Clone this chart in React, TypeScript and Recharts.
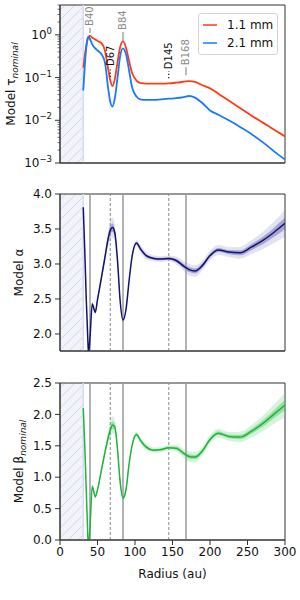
import {
  ComposedChart,
  Line,
  Area,
  XAxis,
  YAxis,
  ReferenceLine,
  ReferenceArea,
  ReferenceDot,
  Legend,
} from 'recharts';

// radius grid (au) shared by all profiles
const radius = [31, 33, 35, 37, 38, 40, 43, 47, 50, 55, 60, 64, 67, 70, 73, 77, 80, 84, 88, 92, 96, 102, 107, 115, 125, 135, 145, 155, 165, 172, 180, 190, 200, 211, 225, 240, 255, 271, 285, 300];

const tau11 = [0.17, 0.32, 0.55, 0.8, 0.9, 0.95, 0.86, 0.78, 0.72, 0.65, 0.42, 0.17, 0.085, 0.063, 0.09, 0.25, 0.5, 0.7, 0.5, 0.25, 0.13, 0.085, 0.075, 0.072, 0.072, 0.072, 0.073, 0.076, 0.08, 0.083, 0.079, 0.066, 0.056, 0.042, 0.029, 0.0194, 0.013, 0.0087, 0.0061, 0.0042];
const tau21 = [0.05, 0.18, 0.5, 0.85, 0.9, 0.8, 0.6, 0.48, 0.43, 0.36, 0.22, 0.06, 0.027, 0.021, 0.032, 0.11, 0.3, 0.48, 0.35, 0.15, 0.06, 0.036, 0.031, 0.03, 0.03, 0.031, 0.032, 0.033, 0.035, 0.037, 0.034, 0.025, 0.017, 0.0135, 0.01, 0.007, 0.0048, 0.003, 0.0019, 0.0012];
const alpha = [3.81, 3.2, 2.5, 1.95, 1.72, 1.95, 2.43, 2.31, 2.49, 2.79, 3.1, 3.35, 3.48, 3.52, 3.45, 3.0, 2.5, 2.2, 2.35, 2.75, 3.1, 3.3, 3.22, 3.12, 3.08, 3.07, 3.08, 3.05, 2.97, 2.92, 2.9, 2.98, 3.12, 3.2, 3.17, 3.16, 3.24, 3.34, 3.45, 3.58];
const beta = [2.1, 1.5, 0.8, 0.1, -0.15, 0.2, 0.85, 0.69, 0.8, 1.1, 1.4, 1.62, 1.75, 1.83, 1.8, 1.4, 0.95, 0.67, 0.8, 1.2, 1.5, 1.68, 1.59, 1.48, 1.43, 1.44, 1.47, 1.46, 1.38, 1.33, 1.32, 1.42, 1.6, 1.7, 1.65, 1.64, 1.73, 1.86, 2.0, 2.15];
// half-width of the posterior draws
const spread = [0.02, 0.02, 0.02, 0.03, 0.03, 0.03, 0.03, 0.03, 0.03, 0.04, 0.05, 0.07, 0.1, 0.1, 0.08, 0.05, 0.04, 0.03, 0.03, 0.03, 0.03, 0.03, 0.04, 0.04, 0.03, 0.03, 0.03, 0.04, 0.05, 0.06, 0.06, 0.05, 0.05, 0.05, 0.05, 0.06, 0.07, 0.09, 0.11, 0.14];

const radiusTicks = [0, 50, 100, 150, 200, 250, 300];
const alphaTicks = [2.0, 2.5, 3.0, 3.5, 4.0];
const betaTicks = [0, 0.5, 1.0, 1.5, 2.0, 2.5];
const tauTicks = [0.001, 0.01, 0.1, 1].flatMap(d => [1, 2, 3, 4, 5, 6, 7, 8, 9].map(m => m * d)).filter(v => v <= 5);

const rings = [40, 84, 168];
const gaps = [67, 145];
const annotations = [
  { name: 'B40', r: 40, y: 1.11, len: 5, gap: 2, ring: true },
  { name: 'D67', r: 67, y: 0.103, len: 9, gap: 2, ring: false },
  { name: 'B84', r: 84, y: 0.72, len: 9, gap: 2, ring: true },
  { name: 'D145', r: 145, y: 0.097, len: 7, gap: 2, ring: false },
  { name: 'B168', r: 168, y: 0.114, len: 8, gap: 2, ring: true },
];

const data = radius.map((r, i) => ({
  r,
  tau11: tau11[i],
  tau21: tau21[i],
  alpha: alpha[i],
  alphaIn: [alpha[i] - spread[i] * 0.6, alpha[i] + spread[i] * 0.6],
  alphaOut: [alpha[i] - spread[i] * 1.4, alpha[i] + spread[i] * 1.4],
  beta: beta[i],
  betaIn: [beta[i] - spread[i] * 0.6, beta[i] + spread[i] * 0.6],
  betaOut: [beta[i] - spread[i] * 1.4, beta[i] + spread[i] * 1.4],
}));

const RED = '#ff3c14';
const BLUE = '#1a78ff';
const NAVY = '#12126e';
const GREEN = '#22b23e';
const SPINE = '#333';
const FONT = 'DejaVu Sans, sans-serif';

function LogTick(props: any) {
  const { x, y, payload } = props;
  const e = Math.log10(payload.value);
  const major = Math.abs(e - Math.round(e)) < 1e-6;
  const exp = Math.round(e);
  return (
    <g>
      <line x1={x - (major ? 5 : 2.5)} x2={x} y1={y} y2={y} stroke={SPINE} strokeWidth={major ? 1 : 0.7} />
      {major && (
        <text x={x - 8} y={y + 4} textAnchor="end" fontSize={12} fill="#111" fontFamily={FONT}>
          10<tspan dy={-5} fontSize={8.5}>{exp < 0 ? '\u2212' + Math.abs(exp) : String(exp)}</tspan>
        </text>
      )}
    </g>
  );
}

function YLabel({ viewBox, main, sub, base }: any) {
  const cx = viewBox.x + base;
  const cy = viewBox.y + viewBox.height / 2;
  return (
    <text transform={`rotate(-90, ${cx}, ${cy})`} x={cx} y={cy} textAnchor="middle" fontSize={12} fill="#111" fontFamily={FONT}>
      {main}
      {sub && <tspan dy={3} fontSize={9} fontStyle="italic">{sub}</tspan>}
    </text>
  );
}

function Annot(props: any) {
  const { cx, cy, a } = props;
  const top = cy - a.len;
  const ty = top - a.gap;
  return (
    <g>
      <line x1={cx} x2={cx} y1={cy} y2={top} stroke={a.ring ? '#999' : '#111'} strokeWidth={a.ring ? 1.3 : 1.2} strokeDasharray={a.ring ? undefined : '1.2 2'} />
      <text transform={`rotate(-90, ${cx + 3.5}, ${ty})`} x={cx + 3.5} y={ty} fontSize={10} fill={a.ring ? '#8a8a8a' : '#111'} fontFamily={FONT}>
        {a.name}
      </text>
    </g>
  );
}

function LegendBox() {
  const items = [
    { label: '1.1 mm', color: RED },
    { label: '2.1 mm', color: BLUE },
  ];
  return (
    <div style={{ border: '1px solid #d4d4d4', borderRadius: 3, background: 'rgba(255,255,255,0.85)', padding: '2px 4px', fontFamily: FONT, fontSize: 12, color: '#111', whiteSpace: 'nowrap', boxSizing: 'border-box', width: 80 }}>
      {items.map(it => (
        <div key={it.label} style={{ display: 'flex', alignItems: 'center', height: 18, lineHeight: '18px' }}>
          <svg width={14} height={4} style={{ marginRight: 10, flex: 'none' }}>
            <line x1={0} x2={14} y1={2} y2={2} stroke={it.color} strokeWidth={1.5} />
          </svg>
          <span>{it.label}</span>
        </div>
      ))}
    </div>
  );
}

function Hatch() {
  return (
    <defs>
      <pattern id="hatch" patternUnits="userSpaceOnUse" width={10} height={10}>
        <rect width={10} height={10} fill="#f1f3f9" />
        <path d="M-1,1 L1,-1 M0,10 L10,0 M9,11 L11,9" stroke="#d3d9ea" strokeWidth={1} />
      </pattern>
    </defs>
  );
}

function xAxisCommon() {
  return {
    dataKey: 'r',
    type: 'number' as const,
    domain: [0, 300],
    ticks: radiusTicks,
    allowDataOverflow: true,
    stroke: SPINE,
    tickSize: 5,
  };
}

export default function App() {
  return (
    <div style={{ position: 'absolute', left: 0, top: 0, width: 300, height: 600, background: '#fff', fontFamily: FONT }}>
      {/* optical depth */}
      <ComposedChart width={300} height={180} data={data} margin={{ top: 5, right: 15, bottom: 0, left: 0 }}>
        <Hatch />
        <XAxis {...xAxisCommon()} height={17} tick={false} />
        <YAxis
          scale="log"
          domain={[0.001, 5]}
          allowDataOverflow
          ticks={tauTicks}
          interval={0}
          width={60}
          stroke={SPINE}
          tickLine={false}
          tickSize={0}
          tickMargin={0}
          tick={<LogTick />}
          label={{ content: (p: any) => <YLabel viewBox={p.viewBox} main="Model τ" sub="nominal" base={15} /> }}
        />
        <ReferenceArea x1={0} x2={31} fill="url(#hatch)" fillOpacity={1} stroke="none" />
        <ReferenceLine x={31} stroke="#d7ddef" strokeWidth={1.5} />
        <ReferenceArea x1={0} x2={300} y1={0.001} y2={5} fill="none" stroke={SPINE} strokeWidth={1} />
        <Line dataKey="tau11" type="monotone" stroke={RED} strokeWidth={1.8} dot={false} isAnimationActive={false} />
        <Line dataKey="tau21" type="monotone" stroke={BLUE} strokeWidth={1.8} dot={false} isAnimationActive={false} />
        {annotations.map(a => (
          <ReferenceDot key={a.name} x={a.r} y={a.y} r={0} shape={(p: any) => <Annot {...p} a={a} />} />
        ))}
        <Legend
          layout="vertical"
          align="center"
          verticalAlign="middle"
          wrapperStyle={{ top: 13, left: 198, width: 80, height: 'auto' }}
          content={() => <LegendBox />}
        />
      </ComposedChart>

      {/* spectral index alpha */}
      <ComposedChart width={300} height={188} data={data} margin={{ top: 14, right: 15, bottom: 0, left: 0 }}>
        <Hatch />
        <XAxis {...xAxisCommon()} height={17} tick={false} />
        <YAxis
          domain={[1.757, 4.0]}
          allowDataOverflow
          ticks={alphaTicks}
          interval={0}
          width={60}
          stroke={SPINE}
          tickSize={5}
          tickMargin={3}
          tickFormatter={(v: number) => v.toFixed(1)}
          tick={{ fontSize: 12, fill: '#111', fontFamily: FONT }}
          label={{ content: (p: any) => <YLabel viewBox={p.viewBox} main="Model α" base={23} /> }}
        />
        <ReferenceArea x1={0} x2={31} fill="url(#hatch)" fillOpacity={1} stroke="none" />
        <ReferenceLine x={31} stroke="#d7ddef" strokeWidth={1.5} />
        {rings.map(r => <ReferenceLine key={r} x={r} stroke="#9a9a9a" strokeWidth={1.5} />)}
        {gaps.map(r => <ReferenceLine key={r} x={r} stroke="#8a8a8a" strokeWidth={1} strokeDasharray="3 2" />)}
        <ReferenceArea x1={0} x2={300} y1={1.757} y2={4.0} fill="none" stroke={SPINE} strokeWidth={1} />
        <Area dataKey="alphaOut" type="monotone" stroke="none" fill="#7a7abf" fillOpacity={0.22} isAnimationActive={false} />
        <Area dataKey="alphaIn" type="monotone" stroke="none" fill="#4a4aa0" fillOpacity={0.4} isAnimationActive={false} />
        <Line dataKey="alpha" type="monotone" stroke={NAVY} strokeWidth={1.5} dot={false} isAnimationActive={false} />
      </ComposedChart>

      {/* spectral index beta */}
      <ComposedChart width={300} height={232} data={data} margin={{ top: 15, right: 15, bottom: 0, left: 0 }}>
        <Hatch />
        <XAxis
          {...xAxisCommon()}
          height={60}
          tickMargin={2}
          tick={{ fontSize: 12, fill: '#111', fontFamily: FONT }}
          label={{
            content: (p: any) => (
              <text x={p.viewBox.x + p.viewBox.width / 2} y={p.viewBox.y + 38} textAnchor="middle" fontSize={12} fill="#111" fontFamily={FONT}>
                Radius (au)
              </text>
            ),
          }}
        />
        <YAxis
          domain={[0, 2.5]}
          allowDataOverflow
          ticks={betaTicks}
          interval={0}
          width={60}
          stroke={SPINE}
          tickSize={5}
          tickMargin={3}
          tickFormatter={(v: number) => v.toFixed(1)}
          tick={{ fontSize: 12, fill: '#111', fontFamily: FONT }}
          label={{ content: (p: any) => <YLabel viewBox={p.viewBox} main="Model β" sub="nominal" base={23} /> }}
        />
        <ReferenceArea x1={0} x2={31} fill="url(#hatch)" fillOpacity={1} stroke="none" />
        <ReferenceLine x={31} stroke="#d7ddef" strokeWidth={1.5} />
        {rings.map(r => <ReferenceLine key={r} x={r} stroke="#9a9a9a" strokeWidth={1.5} />)}
        {gaps.map(r => <ReferenceLine key={r} x={r} stroke="#8a8a8a" strokeWidth={1} strokeDasharray="3 2" />)}
        <ReferenceArea x1={0} x2={300} y1={0} y2={2.5} fill="none" stroke={SPINE} strokeWidth={1} />
        <Area dataKey="betaOut" type="monotone" stroke="none" fill="#7fd88f" fillOpacity={0.3} isAnimationActive={false} />
        <Area dataKey="betaIn" type="monotone" stroke="none" fill="#3cc258" fillOpacity={0.4} isAnimationActive={false} />
        <Line dataKey="beta" type="monotone" stroke={GREEN} strokeWidth={1.5} dot={false} isAnimationActive={false} />
      </ComposedChart>
    </div>
  );
}
